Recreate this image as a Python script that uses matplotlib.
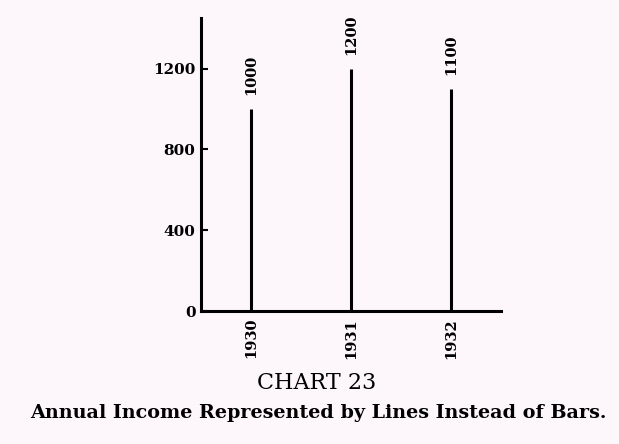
import matplotlib.pyplot as plt

years = ['1930', '1931', '1932']
income = [1000, 1200, 1100]
yticks = [0, 400, 800, 1200]

bg = '#fdf7fb'
serif = ['DejaVu Serif']

fig = plt.figure(figsize=(6.19, 4.44), dpi=100, facecolor=bg)
ax = fig.add_axes([0.3247, 0.2995, 0.4847, 0.66])
ax.set_facecolor(bg)

x = list(range(len(years)))
ax.vlines(x, 0, income, color='black', linewidth=2.2)

# value labels above each line
for xi, v in zip(x, income):
    ax.annotate(str(v), (xi, v), xytext=(0, 10), textcoords='offset points',
                rotation=90, ha='center', va='bottom',
                fontsize=10.5, fontweight='bold', family=serif)

ax.set_xlim(-0.5, 2.5)
ax.set_ylim(0, 1450)
ax.set_xticks(x)
ax.set_xticklabels(years, rotation=90, fontsize=10.5, fontweight='bold', family=serif)
ax.set_yticks(yticks)
ax.set_yticklabels([str(t) for t in yticks], fontsize=11, fontweight='bold', family=serif)
ax.tick_params(axis='x', length=0, pad=5)
ax.tick_params(axis='y', direction='in', length=5, width=1.5, pad=4)

for s in ['top', 'right']:
    ax.spines[s].set_visible(False)
for s in ['left', 'bottom']:
    ax.spines[s].set_linewidth(2.2)

fig.text(0.512, 0.137, 'CHART 23', ha='center', va='center', fontsize=16, family=serif)
fig.text(0.515, 0.07, 'Annual Income Represented by Lines Instead of Bars.',
         ha='center', va='center', fontsize=13.8, fontweight='bold', family=serif)

fig.savefig('out.png', dpi=100, facecolor=bg)
